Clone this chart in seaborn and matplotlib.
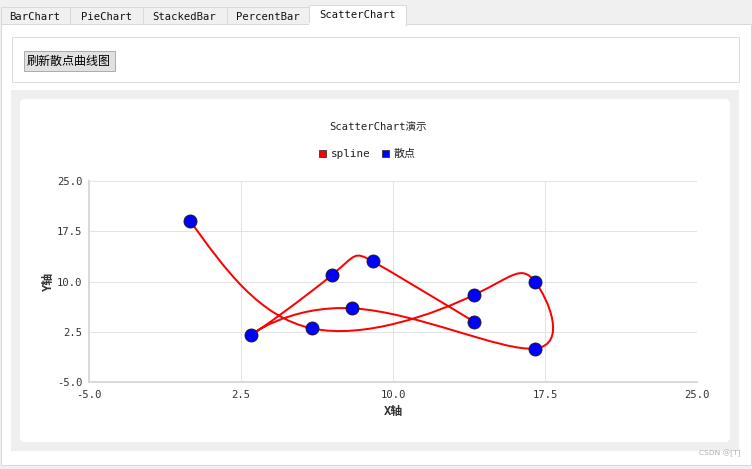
import numpy as np
import matplotlib
matplotlib.use("Agg")
import matplotlib.pyplot as plt
import seaborn as sns
from matplotlib.patches import Rectangle, FancyBboxPatch, PathPatch
from matplotlib.path import Path
from matplotlib.lines import Line2D

# ---------------- data ----------------
tab_names = ["BarChart", "PieChart", "StackedBar", "PercentBar", "ScatterChart"]
button_text = "刷新散点曲线图"
chart_title = "ScatterChart演示"
series_names = ["spline", "散点"]
point_x = [0, 6, 14, 17, 17, 8, 3, 7, 9, 14]
point_y = [19, 3, 8, 10, 0, 6, 2, 11, 13, 4]
x_ticks = [-5.0, 2.5, 10.0, 17.5, 25.0]
y_ticks = [-5.0, 2.5, 10.0, 17.5, 25.0]
x_title = "X轴"
y_title = "Y轴"
watermark = "CSDN @[T]"

W, H = 752, 469
PX = 72 / 100  # points per pixel

sns.set_style("white")
MONO = ["DejaVu Sans Mono", "Noto Sans CJK SC"]
plt.rcParams["font.family"] = MONO


def spline_path(xs, ys):
    """Bezier path through the points (same scheme as Qt's QSplineSeries)."""
    K = np.column_stack([xs, ys]).astype(float)
    n = len(K) - 1
    rhs = np.zeros((n, 2))
    rhs[0] = K[0] + 2 * K[1]
    for i in range(1, n - 1):
        rhs[i] = 4 * K[i] + 2 * K[i + 1]
    rhs[n - 1] = (8 * K[n - 1] + K[n]) / 2
    first = np.zeros((n, 2))
    tmp = np.zeros(n)
    b = 2.0
    first[0] = rhs[0] / b
    for i in range(1, n):
        tmp[i] = 1 / b
        b = (4.0 if i < n - 1 else 3.5) - tmp[i]
        first[i] = (rhs[i] - first[i - 1]) / b
    for i in range(1, n):
        first[n - i - 1] -= tmp[n - i] * first[n - i]
    second = np.zeros((n, 2))
    for i in range(n):
        second[i] = 2 * K[i + 1] - first[i + 1] if i < n - 1 else (K[n] + first[n - 1]) / 2
    verts = [K[0]]
    codes = [Path.MOVETO]
    for i in range(n):
        verts += [first[i], second[i], K[i + 1]]
        codes += [Path.CURVE4] * 3
    return Path(verts, codes)


fig = plt.figure(figsize=(W / 100, H / 100), dpi=100, facecolor="#f0f0f0")

# ---------------- window chrome (pixel coordinates) ----------------
bg = fig.add_axes([0, 0, 1, 1], zorder=0)
bg.set_xlim(0, W)
bg.set_ylim(H, 0)
bg.axis("off")

# tab pane
bg.add_patch(Rectangle((0.5, 24.5), 750, 440.5, facecolor="white", edgecolor="#d9d9d9", lw=1 * PX))
# tabs
tab_edges = [0.5, 69.5, 142.5, 226.5, 308.5, 405.5]
for i, name in enumerate(tab_names):
    x0, x1 = tab_edges[i], tab_edges[i + 1]
    selected = i == len(tab_names) - 1
    if selected:
        bg.add_patch(Rectangle((x0, 5.5), x1 - x0, 20, facecolor="white", edgecolor="#d9d9d9", lw=1 * PX, zorder=2))
        bg.add_patch(Rectangle((x0 + 0.6, 23), x1 - x0 - 1.2, 3, facecolor="white", edgecolor="none", zorder=3))
        ty = 15.5
    else:
        bg.add_patch(Rectangle((x0, 7.5), x1 - x0, 17, facecolor="#f0f0f0", edgecolor="#d9d9d9", lw=1 * PX, zorder=2))
        ty = 16.5
    bg.text((x0 + x1) / 2, ty, name, ha="center", va="center", fontsize=10.5 * PX,
            color="#111111", family=MONO, zorder=4)

# group box with button
bg.add_patch(Rectangle((11.5, 37.5), 727, 44.5, facecolor="white", edgecolor="#dcdcdc", lw=1 * PX))
bg.add_patch(Rectangle((23.5, 51.5), 91, 19.5, facecolor="#e1e1e1", edgecolor="#adadad", lw=1 * PX))
bg.text(69, 61.5, button_text, ha="center", va="center", fontsize=12 * PX,
        family=["Noto Sans CJK SC"], color="#000000")

# chart view background
bg.add_patch(Rectangle((11, 90), 728, 361, facecolor="#efefef", edgecolor="none"))
bg.add_patch(FancyBboxPatch((25, 104), 700, 333, boxstyle="round,pad=5,rounding_size=5",
                            facecolor="white", edgecolor="none"))
bg.text(378, 127, chart_title, ha="center", va="center", fontsize=10.5 * PX, color="#222222", family=MONO)
bg.text(741, 453, watermark, ha="right", va="center", fontsize=7.5 * PX, color="#b0b0b0",
        family=["DejaVu Sans"])

# ---------------- chart ----------------
ax_l, ax_r, ax_t, ax_b = 89, 697, 181, 382
ax = fig.add_axes([ax_l / W, 1 - ax_b / H, (ax_r - ax_l) / W, (ax_b - ax_t) / H], zorder=5)
ax.set_facecolor("none")

curve = PathPatch(spline_path(point_x, point_y), facecolor="none", edgecolor="#ff0000",
                  lw=2 * PX, zorder=2, capstyle="round", joinstyle="round")
ax.add_patch(curve)
sns.scatterplot(x=point_x, y=point_y, ax=ax, color="#0000ff", edgecolor="#1a1a1a",
                linewidth=0.9 * PX, s=(13 * PX) ** 2, legend=False, zorder=3, clip_on=False)

ax.set_xlim(-5, 25)
ax.set_ylim(-5, 25)
ax.set_xticks(x_ticks)
ax.set_yticks(y_ticks)
ax.set_xticklabels([f"{v:.1f}" for v in x_ticks])
ax.set_yticklabels([f"{v:.1f}" for v in y_ticks])
ax.grid(True, color="#e3e3e3", lw=1 * PX)
ax.set_axisbelow(True)
for s in ["top", "right"]:
    ax.spines[s].set_visible(False)
for s in ["left", "bottom"]:
    ax.spines[s].set_color("#d9d9d9")
    ax.spines[s].set_linewidth(2 * PX)
ax.tick_params(axis="both", direction="out", length=5 * PX, width=1 * PX, color="#d9d9d9",
               labelsize=10.5 * PX, labelcolor="#333333")
ax.tick_params(axis="y", pad=1.5 * PX)
ax.tick_params(axis="x", pad=3 * PX)

ax.set_xlabel(x_title, fontsize=12 * PX, fontweight="bold", color="#333333", family=MONO)
ax.set_ylabel(y_title, fontsize=12 * PX, fontweight="bold", color="#333333", family=MONO)
ax.xaxis.set_label_coords(0.5, -(411 - ax_b) / (ax_b - ax_t))
ax.xaxis.label.set_va("center")
ax.yaxis.set_label_coords(-(ax_l - 48) / (ax_r - ax_l), 0.5)
ax.yaxis.label.set_va("center")

handles = [
    Line2D([], [], linestyle="none", marker="s", markersize=7 * PX, markerfacecolor="#ff0000",
           markeredgecolor="#333333", markeredgewidth=0.8 * PX),
    Line2D([], [], linestyle="none", marker="s", markersize=7 * PX, markerfacecolor="#0000ff",
           markeredgecolor="#333333", markeredgewidth=0.8 * PX),
]
fig.legend(handles, series_names, loc="center", bbox_to_anchor=(367 / W, 1 - 154 / H),
           ncol=2, frameon=False, fontsize=11 * PX, handlelength=0.6, handletextpad=0.5,
           columnspacing=1.0, borderaxespad=0, borderpad=0, labelcolor="#222222")

fig.savefig("out.png", dpi=100, facecolor=fig.get_facecolor())
